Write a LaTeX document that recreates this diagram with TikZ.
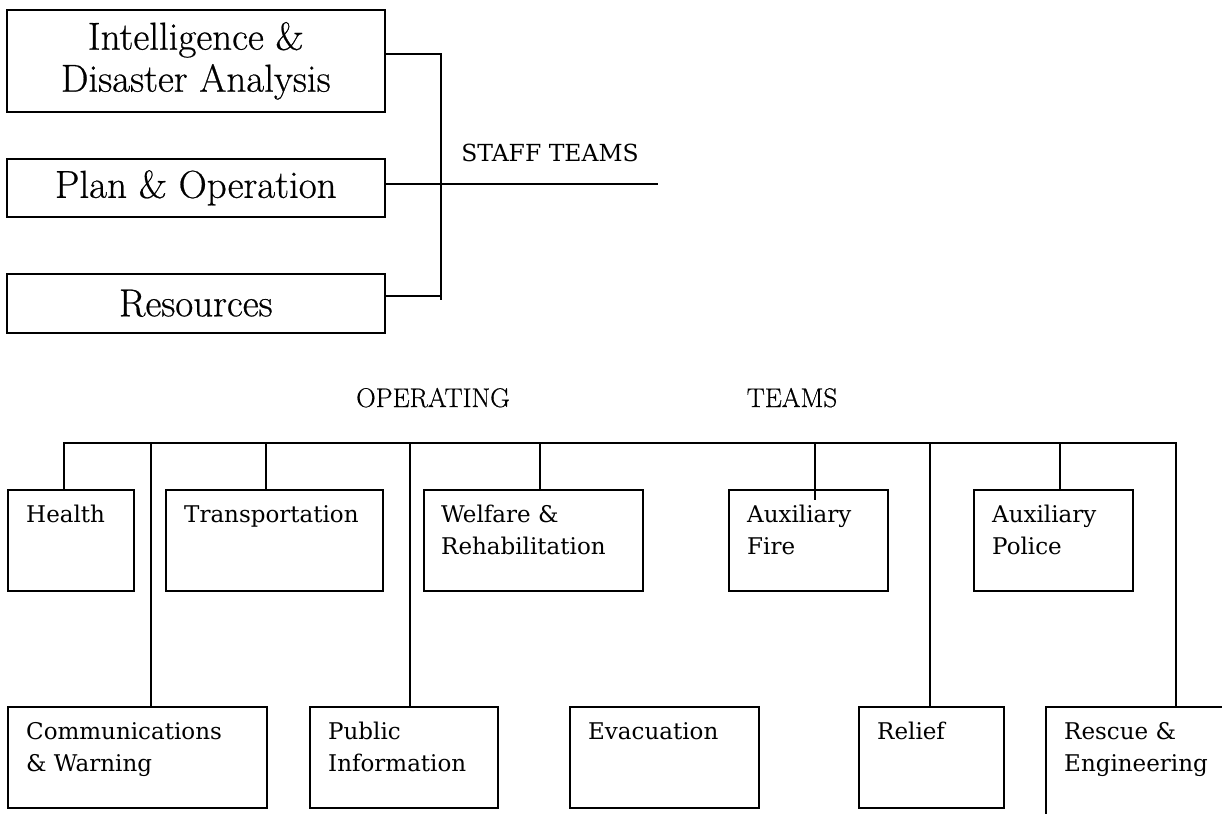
\documentclass[tikz,border=0pt]{standalone}
\usepackage{fontspec}
\newfontfamily\slabfont{DejaVu Serif}
\newfontfamily\bigfont[FakeBold=0.6]{Latin Modern Roman}
\usetikzlibrary{calc}
\begin{document}
\begin{tikzpicture}[x=1pt,y=-1pt,
 obox/.style={draw, rectangle, anchor=north west, inner sep=0pt, line width=1.6pt},
 boxtext/.style={font=\slabfont\fontsize{23}{32}\selectfont, align=left, inner sep=0pt, anchor=north west},
 bigtext/.style={font=\bigfont\fontsize{39}{42}\selectfont, align=center},
 optext/.style={font=\bigfont\fontsize{27}{30}\selectfont, anchor=base, inner sep=0pt},
 stafftext/.style={font=\slabfont\fontsize{23.5}{28}\selectfont, anchor=base, inner sep=0pt},
 link/.style={draw, line width=1.6pt}]
\useasboundingbox (0,0) rectangle (1222,813);
\clip (0,0) rectangle (1222,813);

% ---------- staff teams ----------
\node[obox, bigtext, minimum width=378, minimum height=102] (intel) at (6,9) {Intelligence \&\\Disaster Analysis};
\node[obox, bigtext, minimum width=378, minimum height=58] (plan) at (6,158) {Plan \& Operation};
\node[obox, bigtext, minimum width=378, minimum height=59] (res) at (6,273) {Resources};

\coordinate (bt) at (441,54);
\coordinate (bm) at (441,184);
\coordinate (bb) at (441,296);
\coordinate (bend) at (441,300);
\coordinate (staffend) at (658,184);
\draw[link] (intel.east |- bt) -- (bt) -- (bend);
\draw[link] (plan.east |- bm) -- (staffend);
\draw[link] (res.east |- bb) -- (bb);
\node[stafftext] (stafflbl) at (550,161) {STAFF TEAMS};

% ---------- operating teams ----------
\node[optext] (oplbl) at (433,407) {OPERATING};
\node[optext] (tmlbl) at (792,407) {TEAMS};

% top row boxes
\node[obox, minimum width=126, minimum height=101] (health) at (7,489) {};
\node[obox, minimum width=217, minimum height=101] (trans) at (165,489) {};
\node[obox, minimum width=219, minimum height=101] (welf) at (423,489) {};
\node[obox, minimum width=159, minimum height=101] (fire) at (728,489) {};
\node[obox, minimum width=159, minimum height=101] (police) at (973,489) {};
% bottom row boxes
\node[obox, minimum width=259, minimum height=101] (comm) at (7,706) {};
\node[obox, minimum width=188, minimum height=101] (pub) at (309,706) {};
\node[obox, minimum width=189, minimum height=101] (evac) at (569,706) {};
\node[obox, minimum width=145, minimum height=101] (relief) at (858,706) {};
\node[obox, minimum width=300, minimum height=200] (rescue) at (1045,706) {};

% box texts
\node[boxtext] (healtht) at ([shift={(19,10.6)}]health.north west) {\strut Health};
\node[boxtext] (transt) at ([shift={(19,10.6)}]trans.north west) {\strut Transportation};
\node[boxtext] (welft) at ([shift={(18,10.6)}]welf.north west) {\strut Welfare \&\\Rehabilitation};
\node[boxtext] (firet) at ([shift={(19,10.6)}]fire.north west) {\strut Auxiliary\\Fire};
\node[boxtext] (policet) at ([shift={(19,10.6)}]police.north west) {\strut Auxiliary\\Police};
\node[boxtext] (commt) at ([shift={(19,10.6)}]comm.north west) {\strut Communications\\\& Warning};
\node[boxtext] (pubt) at ([shift={(19,10.6)}]pub.north west) {\strut Public\\Information};
\node[boxtext] (evact) at ([shift={(19,10.6)}]evac.north west) {\strut Evacuation};
\node[boxtext] (relieft) at ([shift={(19,10.6)}]relief.north west) {\strut Relief};
\node[boxtext] (rescuet) at ([shift={(19,10.6)}]rescue.north west) {\strut Rescue \&\\Engineering};

% bus and drops
\coordinate (busL) at (64,443);
\coordinate (busR) at (1176,443);
\coordinate (d1) at (151,443);
\coordinate (d2) at (266,443);
\coordinate (d3) at (410,443);
\coordinate (d4) at (540,443);
\coordinate (d5) at (815,443);
\coordinate (fireend) at (815,500);
\coordinate (d6) at (930,443);
\coordinate (d7) at (1060,443);
\draw[link] (busL |- health.north) -- (busL) -- (busR) -- (busR |- rescue.north);
\draw[link] (d1) -- (d1 |- comm.north);
\draw[link] (d2) -- (d2 |- trans.north);
\draw[link] (d3) -- (d3 |- pub.north);
\draw[link] (d4) -- (d4 |- welf.north);
\draw[link] (d5) -- (fireend);
\draw[link] (d6) -- (d6 |- relief.north);
\draw[link] (d7) -- (d7 |- police.north);
\end{tikzpicture}
\end{document}
